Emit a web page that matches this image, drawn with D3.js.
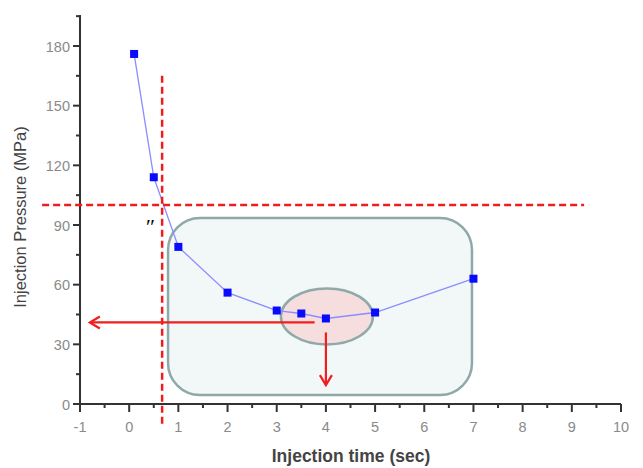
<!DOCTYPE html>
<html><head><meta charset="utf-8">
<script src="https://cdn.jsdelivr.net/npm/d3@7"></script>
<style>body{margin:0;background:#fff;} svg{display:block;}</style>
</head><body>
<svg id="c" width="643" height="468"></svg>
<script>
const times = [0.1, 0.5, 1, 2, 3, 3.5, 4, 5, 7];
const pressures = [176, 114, 79, 56, 47, 45.5, 43, 46, 63];
const xTicks = [-1,0,1,2,3,4,5,6,7,8,9,10];
const yTicks = [0,30,60,90,120,150,180];
const xLabel = "Injection time (sec)";
const yLabel = "Injection Pressure (MPa)";
const critTime = 0.67, critPressure = 100;

const svg = d3.select("#c");
const x = d3.scaleLinear().domain([-1,10]).range([80,621]);
const y = d3.scaleLinear().domain([0,180]).range([404,46]);
const font = "Liberation Sans, Arial, sans-serif";

// rounded region
svg.append("rect").attr("x",x(0.79)).attr("y",y(93.5)).attr("width",x(6.97)-x(0.79)).attr("height",y(4.5)-y(93.5))
  .attr("rx",32).attr("ry",32).attr("fill","#f2f8f8").attr("stroke","#8fa9a9").attr("stroke-width",2.5);
svg.append("ellipse").attr("cx",x(4.02)).attr("cy",y(44)).attr("rx",46).attr("ry",28)
  .attr("fill","#f5dedd").attr("stroke","#8fa9a9").attr("stroke-width",2.5);

// axes
const gx = svg.append("g").attr("transform","translate(0,404)");
gx.append("line").attr("x1",73).attr("x2",x(10)).attr("stroke","#333").attr("stroke-width",2);
const minorX = d3.range(-0.5,10,1);
gx.selectAll(".mx").data(minorX).join("line").attr("x1",d=>x(d)).attr("x2",d=>x(d)).attr("y1",0).attr("y2",4).attr("stroke","#333").attr("stroke-width",2);
gx.selectAll(".Mx").data(xTicks).join("line").attr("x1",d=>x(d)).attr("x2",d=>x(d)).attr("y1",0).attr("y2",8).attr("stroke","#333").attr("stroke-width",2);
gx.selectAll("text").data(xTicks).join("text").attr("x",d=>x(d)).attr("y",28).attr("text-anchor","middle")
  .attr("font-family",font).attr("font-size",14.5).attr("fill","#8a8a8a").text(d=>d);

const gy = svg.append("g").attr("transform","translate(80,0)");
gy.append("line").attr("y1",y(0)+1).attr("y2",15).attr("stroke","#333").attr("stroke-width",2);
const minorY = d3.range(15,196,30);
gy.selectAll(".my").data(minorY).join("line").attr("x1",-4).attr("x2",0).attr("y1",d=>y(d)).attr("y2",d=>y(d)).attr("stroke","#333").attr("stroke-width",2);
gy.selectAll(".My").data(yTicks).join("line").attr("x1",-7).attr("x2",0).attr("y1",d=>y(d)).attr("y2",d=>y(d)).attr("stroke","#333").attr("stroke-width",2);
gy.selectAll("text").data(yTicks).join("text").attr("x",-10).attr("y",d=>y(d)+5.5).attr("text-anchor","end")
  .attr("font-family",font).attr("font-size",14.5).attr("fill","#8a8a8a").text(d=>d);

svg.append("text").attr("x",351).attr("y",462).attr("text-anchor","middle").attr("font-family",font)
  .attr("font-size",17.5).attr("font-weight","bold").attr("fill","#444").text(xLabel);
svg.append("text").attr("transform","translate(26,217) rotate(-90)").attr("text-anchor","middle").attr("font-family",font)
  .attr("font-size",16.5).attr("fill","#444").text(yLabel);

// data line
const pts = times.map((t,i)=>[t,pressures[i]]);
svg.append("path").attr("d",d3.line().x(d=>x(d[0])).y(d=>y(d[1]))(pts)).attr("fill","none").attr("stroke","#8c8cff").attr("stroke-width",1.3);
svg.selectAll(".pt").data(pts).join("rect").attr("x",d=>x(d[0])-4).attr("y",d=>y(d[1])-4).attr("width",8).attr("height",8).attr("fill","#0a0aff");

// dashed red lines
svg.append("line").attr("x1",x(critTime)).attr("x2",x(critTime)).attr("y1",y(165)).attr("y2",y(-12))
  .attr("stroke","#ee1c1c").attr("stroke-width",2.5).attr("stroke-dasharray","7,4");
svg.append("line").attr("x1",x(-1.77)).attr("x2",x(9.25)).attr("y1",y(critPressure)).attr("y2",y(critPressure))
  .attr("stroke","#ee1c1c").attr("stroke-width",2.5).attr("stroke-dasharray","7,4");

// arrows
const red = "#f01e1e";
svg.append("line").attr("x1",x(3.77)).attr("x2",x(-0.78)).attr("y1",y(41)).attr("y2",y(41)).attr("stroke",red).attr("stroke-width",2.2);
svg.append("path").attr("d",`M${x(-0.8)+10},${y(41)-6} L${x(-0.8)},${y(41)} L${x(-0.8)+10},${y(41)+6}`).attr("fill","none").attr("stroke",red).attr("stroke-width",2.2);
svg.append("line").attr("x1",x(4)).attr("x2",x(4)).attr("y1",y(36)).attr("y2",y(9.5)).attr("stroke",red).attr("stroke-width",2.2);
svg.append("path").attr("d",`M${x(4)-6},${y(9.5)-10} L${x(4)},${y(9.5)} L${x(4)+6},${y(9.5)-10}`).attr("fill","none").attr("stroke",red).attr("stroke-width",2.2);

svg.append("text").attr("x",149).attr("y",234).attr("text-anchor","middle").attr("font-family","Liberation Serif, serif").attr("font-style","italic")
  .attr("font-size",22).attr("fill","#000").text("″");
</script>
</body></html>
